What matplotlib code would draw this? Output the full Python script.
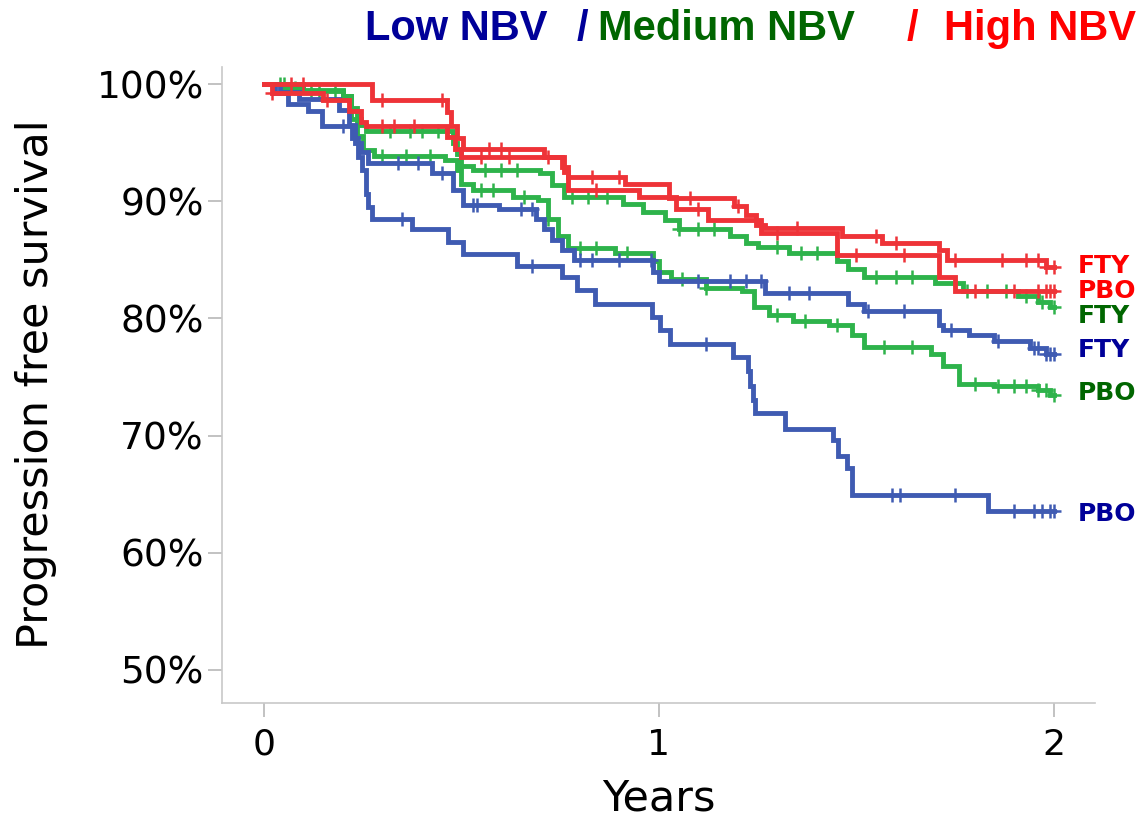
import numpy as np
import matplotlib.pyplot as plt

# ---------------------------------------------------------------------------
# Kaplan-Meier step data (years, % progression free)
# ---------------------------------------------------------------------------
LOW_PBO_T = [0.0, 0.028, 0.061, 0.111, 0.147, 0.223, 0.238, 0.248, 0.258, 0.265, 0.273,
             0.375, 0.466, 0.504, 0.641, 0.754, 0.792, 0.838, 0.982, 1.003, 1.028,
             1.187, 1.225, 1.232, 1.238, 1.243, 1.319, 1.441, 1.453, 1.476, 1.489, 1.833]
LOW_PBO_S = [100.0, 99.2, 98.3, 97.7, 96.4, 95.4, 93.8, 92.7, 90.6, 89.5, 88.5,
             87.6, 86.5, 85.5, 84.5, 83.5, 82.4, 81.2, 80.1, 79.0, 77.8,
             76.7, 75.5, 74.2, 73.0, 71.9, 70.6, 69.6, 68.3, 67.2, 64.9, 63.6]
LOW_PBO_CENS = [0.20, 0.35, 0.68, 1.12, 1.59, 1.61, 1.75, 1.90, 1.95, 1.97, 1.99, 2.0]

LOW_FTY_T = [0.0, 0.04, 0.09, 0.19, 0.215, 0.23, 0.245, 0.265, 0.425, 0.48, 0.505,
             0.595, 0.69, 0.71, 0.73, 0.755, 0.785, 0.985, 1.0, 1.27, 1.48, 1.52,
             1.71, 1.72, 1.785, 1.85, 1.94, 1.98]
LOW_FTY_S = [100.0, 99.3, 98.7, 97.8, 96.5, 95.0, 94.2, 93.3, 92.4, 91.0, 89.7,
             89.3, 88.5, 87.6, 86.7, 85.8, 85.0, 84.0, 83.2, 82.2, 81.2, 80.6,
             79.4, 79.0, 78.6, 78.1, 77.5, 77.0]
LOW_FTY_CENS = [0.34, 0.39, 0.45, 0.53, 0.54, 0.65, 0.68, 0.80, 0.83, 0.90, 0.98,
                1.10, 1.18, 1.22, 1.26, 1.33, 1.38, 1.53, 1.62, 1.74, 1.86, 1.95,
                1.96, 1.98, 1.99, 2.0]

MED_PBO_T = [0.0, 0.10, 0.20, 0.22, 0.235, 0.25, 0.28, 0.46, 0.49, 0.50, 0.53, 0.63,
             0.695, 0.72, 0.745, 0.77, 0.89, 0.985, 1.0, 1.03, 1.12, 1.21, 1.24, 1.28,
             1.34, 1.43, 1.49, 1.52, 1.69, 1.72, 1.76, 1.85, 1.96, 1.99]
MED_PBO_S = [100.0, 99.5, 99.0, 97.0, 95.6, 94.4, 93.9, 93.5, 92.7, 91.5, 91.0, 90.4,
             90.1, 88.5, 87.0, 86.0, 85.6, 84.9, 84.0, 83.4, 82.6, 82.3, 81.0, 80.3,
             79.8, 79.4, 78.6, 77.6, 77.0, 75.9, 74.4, 74.2, 73.9, 73.5]
MED_PBO_CENS = [0.05, 0.12, 0.30, 0.36, 0.42, 0.55, 0.58, 0.66, 0.72, 0.80, 0.84,
                0.92, 1.06, 1.12, 1.30, 1.37, 1.45, 1.57, 1.64, 1.80, 1.86, 1.90,
                1.93, 1.96, 1.98, 2.0]

MED_FTY_T = [0.0, 0.05, 0.10, 0.20, 0.22, 0.235, 0.245, 0.26, 0.48, 0.49, 0.50, 0.53,
             0.70, 0.73, 0.76, 0.91, 0.96, 1.015, 1.05, 1.18, 1.22, 1.25, 1.33, 1.45,
             1.48, 1.52, 1.70, 1.77, 1.91, 1.96, 1.99]
MED_FTY_S = [100.0, 99.7, 99.4, 99.0, 98.0, 97.0, 96.5, 96.0, 95.0, 94.0, 93.0, 92.7,
             92.4, 91.4, 90.4, 89.8, 89.1, 88.4, 87.6, 87.0, 86.4, 86.1, 85.6, 84.9,
             84.2, 83.5, 83.0, 82.3, 81.9, 81.4, 81.0]
MED_FTY_CENS = [0.04, 0.08, 0.14, 0.18, 0.32, 0.37, 0.40, 0.44, 0.56, 0.60, 0.64,
                0.78, 0.82, 0.87, 1.05, 1.10, 1.14, 1.30, 1.36, 1.40, 1.55, 1.60,
                1.64, 1.78, 1.83, 1.88, 1.93, 1.97, 2.0]

HIGH_PBO_T = [0.0, 0.02, 0.15, 0.215, 0.245, 0.26, 0.465, 0.485, 0.50, 0.76, 0.77,
              0.95, 1.043, 1.124, 1.26, 1.45, 1.71, 1.75]
HIGH_PBO_S = [100.0, 99.2, 98.6, 97.7, 96.8, 96.4, 95.5, 94.5, 93.8, 92.5, 91.0,
              90.4, 89.3, 88.4, 87.3, 85.4, 83.5, 82.3]
HIGH_PBO_CENS = [0.02, 0.16, 0.30, 0.33, 0.38, 0.55, 0.62, 0.84, 1.10, 1.30, 1.50,
                 1.62, 1.80, 1.90, 1.96, 1.98, 1.99, 2.0]

HIGH_FTY_T = [0.0, 0.275, 0.465, 0.475, 0.49, 0.505, 0.71, 0.755, 0.77, 0.915, 1.025,
              1.19, 1.22, 1.245, 1.27, 1.465, 1.565, 1.71, 1.73, 1.98]
HIGH_FTY_S = [100.0, 98.6, 97.6, 96.4, 95.4, 94.5, 93.8, 92.9, 92.1, 91.5, 90.3,
              89.6, 88.8, 88.0, 87.7, 87.0, 86.4, 85.8, 85.0, 84.4]
HIGH_FTY_CENS = [0.07, 0.10, 0.30, 0.45, 0.57, 0.60, 0.72, 0.83, 0.90, 1.08, 1.20,
                 1.35, 1.55, 1.60, 1.75, 1.87, 1.93, 1.96, 1.98, 2.0]

END_T = 2.0

BLUE = "#3f5bb2"
GREEN = "#2eb34b"
RED = "#ee3338"
BLUE_TXT = "#000099"
GREEN_TXT = "#006600"
RED_TXT = "#ff0000"

CURVES = [
    (MED_PBO_T, MED_PBO_S, MED_PBO_CENS, GREEN),
    (MED_FTY_T, MED_FTY_S, MED_FTY_CENS, GREEN),
    (LOW_PBO_T, LOW_PBO_S, LOW_PBO_CENS, BLUE),
    (LOW_FTY_T, LOW_FTY_S, LOW_FTY_CENS, BLUE),
    (HIGH_PBO_T, HIGH_PBO_S, HIGH_PBO_CENS, RED),
    (HIGH_FTY_T, HIGH_FTY_S, HIGH_FTY_CENS, RED),
]

# labels at the right end: (text, y value, colour)
END_LABELS = [
    ("FTY", 84.5, RED_TXT),
    ("PBO", 82.3, RED_TXT),
    ("FTY", 80.2, GREEN_TXT),
    ("FTY", 77.3, BLUE_TXT),
    ("PBO", 73.6, GREEN_TXT),
    ("PBO", 63.3, BLUE_TXT),
]


def surv_at(t, s, x):
    idx = np.searchsorted(t, x, side="right") - 1
    return np.asarray(s)[idx]


fig = plt.figure(figsize=(11.44, 8.21), dpi=100)
ax = fig.add_axes([0.194, 0.144, 0.763, 0.775])

for t, s, cens, col in CURVES:
    tt = list(t) + [END_T]
    ss = list(s) + [s[-1]]
    ax.step(tt, ss, where="post", color=col, lw=3.5, solid_joinstyle="miter")
    cy = surv_at(np.array(t), s, np.array(cens))
    ax.plot(cens, cy, linestyle="none", marker="+", markersize=10,
            markeredgewidth=1.8, color=col)

for txt, yv, col in END_LABELS:
    ax.text(2.06, yv, txt, color=col, fontsize=18, fontweight="bold",
            va="center", ha="left", clip_on=False)

ax.set_xlim(-0.106, 2.104)
ax.set_ylim(47.2, 101.5)
ax.set_xticks([0, 1, 2])
ax.set_yticks([50, 60, 70, 80, 90, 100])
ax.set_yticklabels([f"{v}%" for v in [50, 60, 70, 80, 90, 100]])
ax.tick_params(axis="both", labelsize=26, color="#b8b8b8", length=10, width=1.2)
ax.tick_params(axis="y", labelsize=27, pad=3)
ax.tick_params(axis="x", pad=8)
for side in ["top", "right"]:
    ax.spines[side].set_visible(False)
for side in ["left", "bottom"]:
    ax.spines[side].set_color("#c8c8c8")
    ax.spines[side].set_linewidth(1.2)

ax.set_ylabel("Progression free survival", fontsize=31)
ax.yaxis.set_label_coords(-0.189, 0.5)
ax.set_xlabel("Years", fontsize=31)
ax.xaxis.set_label_coords(0.5, -0.117)

# coloured multi-part title
title_parts = [
    ("Low NBV", 365, BLUE_TXT),
    ("/", 577, BLUE_TXT),
    ("Medium NBV", 598, GREEN_TXT),
    ("/", 907, RED_TXT),
    ("High NBV", 944, RED_TXT),
]
for txt, px, col in title_parts:
    fig.text(px / 1144, (821 - 40) / 821, txt, color=col, fontsize=30,
             fontweight="bold", family="Liberation Sans", ha="left", va="baseline")

fig.savefig("out.png", dpi=100)
